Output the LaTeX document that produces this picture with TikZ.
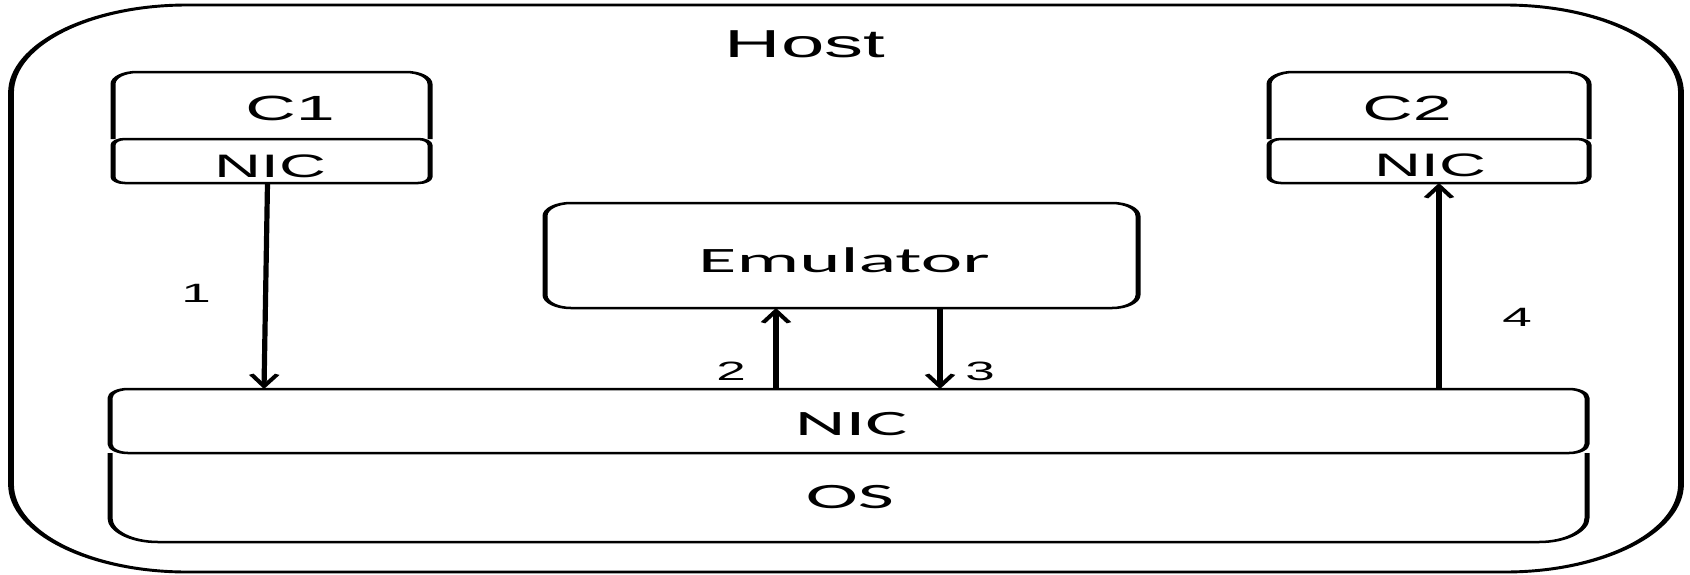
\documentclass[tikz,border=0pt]{standalone}
\usepackage{fontspec}
\usetikzlibrary{arrows.meta,fit}
\newfontfamily\arialfont{Liberation Sans}
\newfontfamily\calfont[FakeStretch=1.1]{Carlito}
\tikzset{
  frame/.style={draw=black, line width=2.5pt},
  outerframe/.style={draw=black, line width=2.9pt},
  part/.style={inner sep=0pt, outer sep=0pt},
  flow/.style={line width=2.6pt, -{Straight Barb[length=12pt,width=13pt]}},
  hosttext/.style={font=\arialfont\fontsize{39}{42}\selectfont, inner sep=0pt},
  ctext/.style={font=\arialfont\fontsize{35}{38}\selectfont, inner sep=0pt},
  smallnic/.style={font=\arialfont\fontsize{32.5}{35}\selectfont, inner sep=0pt},
  bigtext/.style={font=\calfont\fontsize{35.7}{38}\selectfont, inner sep=0pt},
  numtext/.style={font=\arialfont\fontsize{26.5}{28}\selectfont, inner sep=0pt},
}
\begin{document}
\begin{tikzpicture}
\useasboundingbox (0pt,0pt) rectangle (1690pt,-574pt);
% the whole drawing is laid out at half width and widened twofold
\begin{scope}[transform canvas={xscale=2}, x=0.5pt, y=-1pt]
  % host frame
  \node[fit={(11,5) (1681,572)}, part, outerframe, rounded corners=88pt] (host) {};
  \node[hosttext] (hostlabel) at (805,44) {Host};

  % container C1
  \node[fit={(113,72) (430,139)}, part] (c1) {};
  \draw[frame, rounded corners=12pt] (c1.south west) -- (c1.north west) -- (c1.north east) -- (c1.south east);
  \node[fit={(113,139) (430,183)}, part, frame, rounded corners=6pt] (c1nic) {};
  \node[ctext] (c1label) at (290,108) {C1};
  \node[smallnic] (c1niclabel) at (270,166) {NIC};

  % container C2
  \node[fit={(1269,72) (1589,139)}, part] (c2) {};
  \draw[frame, rounded corners=12pt] (c2.south west) -- (c2.north west) -- (c2.north east) -- (c2.south east);
  \node[fit={(1269,139) (1589,183)}, part, frame, rounded corners=6pt] (c2nic) {};
  \node[ctext] (c2label) at (1407,108) {C2};
  \node[smallnic] (c2niclabel) at (1430,165) {NIC};

  % emulator
  \node[fit={(545,203) (1138,308)}, part, frame, rounded corners=13pt] (emu) {};
  \node[bigtext] (emulabel) at (844,260) {Emulator};

  % host NIC and OS
  \node[fit={(110,389) (1587,453)}, part, frame, rounded corners=9pt] (nicbar) {};
  \node[fit={(110,453) (1587,542)}, part] (os) {};
  \draw[frame, rounded corners=24pt] (os.north west) -- (os.south west) -- (os.south east) -- (os.north east);
  \node[bigtext] (niclabel) at (851,424) {NIC};
  \node[bigtext] (oslabel) at (850,497) {OS};

  % packet path
  \draw[flow] ([xshift=-2pt]c1nic.south) -- ([xshift=77pt]nicbar.north west);
  \draw[flow] ([xshift=333pt]nicbar.north west) coordinate (a2) -- (a2 |- emu.south);
  \draw[flow] ([xshift=197.5pt]emu.south west) coordinate (a3) -- (a3 |- nicbar.north);
  \draw[flow] ([xshift=664.5pt]nicbar.north west) coordinate (a4) -- (a4 |- c2nic.south);

  \node[numtext] (n1) at (196,293) {1};
  \node[numtext] (n2) at (731,371) {2};
  \node[numtext] (n3) at (980,371) {3};
  \node[numtext] (n4) at (1517,317) {4};
\end{scope}
\end{tikzpicture}
\end{document}
